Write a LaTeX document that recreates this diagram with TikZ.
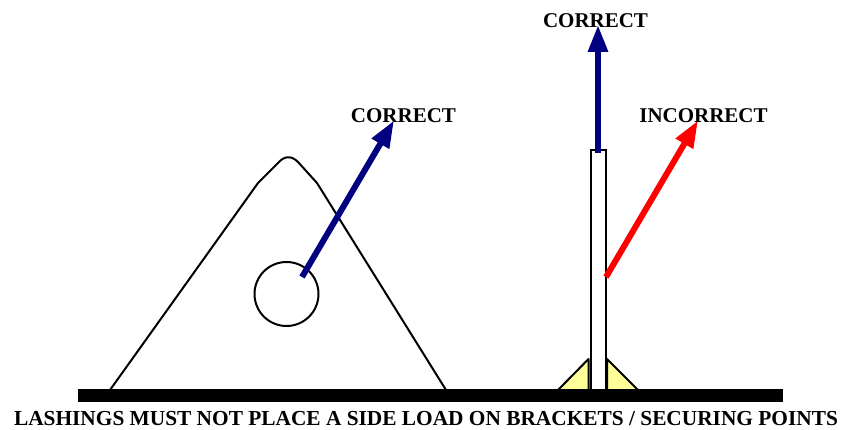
\documentclass[tikz,border=0pt]{standalone}
\usepackage{fontspec}
\setmainfont{Liberation Serif}
\usetikzlibrary{arrows.meta}
\definecolor{navyarrow}{RGB}{0,0,128}
\definecolor{paleyellow}{RGB}{255,255,153}
\tikzset{
  outline/.style={draw=black,line width=2pt,line join=round},
  gusset/.style={outline,fill=paleyellow},
  loadarrow/.style={line width=6pt,-{Triangle[length=27pt,width=19pt]}},
  lbl/.style={font=\bfseries\fontsize{21}{21}\selectfont,inner sep=0pt,text=black},
  caption/.style={font=\bfseries\fontsize{21.35}{22}\selectfont,inner sep=0pt,text=black}
}
\begin{document}
\begin{tikzpicture}[x=1pt,y=-1pt]
\useasboundingbox (0,0) rectangle (843,430);
% triangular bracket
\draw[outline] (110,390) -- (258,183) -- (278,163)
  .. controls (284,156) and (291,155) .. (298,162)
  -- (317,183) -- (446,390);
\node[draw=black,line width=2pt,circle,minimum size=64pt,inner sep=0pt] (eye) at (286.5,294) {};
% gussets
\draw[gusset] (558,390) -- (588.5,359) -- (588.5,390) -- cycle;
\draw[gusset] (607,359) -- (638,390) -- (607,390) -- cycle;
% upright
\node[draw=black,line width=2pt,fill=white,minimum width=15pt,minimum height=240pt,inner sep=0pt] (post) at (598.5,270) {};
% base
\node[fill=black,minimum width=705pt,minimum height=13pt,inner sep=0pt] (base) at (430.5,395.5) {};
% labels
\node[lbl] (c1) at (403.5,116) {CORRECT};
\node[lbl] (c2) at (595.5,20.5) {CORRECT};
\node[lbl] (inc) at (703.5,116) {INCORRECT};
\node[caption] (cap) at (426,418.5) {LASHINGS MUST NOT PLACE A SIDE LOAD ON BRACKETS / SECURING POINTS};
% arrows
\coordinate (a1s) at (302,277);
\coordinate (a1e) at (394,120.5);
\coordinate (a2s) at (598,153);
\coordinate (a2e) at (598,25);
\coordinate (a3s) at (606,277);
\coordinate (a3e) at (698,120.5);
\draw[loadarrow,draw=navyarrow,fill=navyarrow] (a1s) -- (a1e);
\draw[loadarrow,draw=navyarrow,fill=navyarrow] (a2s) -- (a2e);
\draw[loadarrow,draw=red,fill=red] (a3s) -- (a3e);
\end{tikzpicture}
\end{document}
